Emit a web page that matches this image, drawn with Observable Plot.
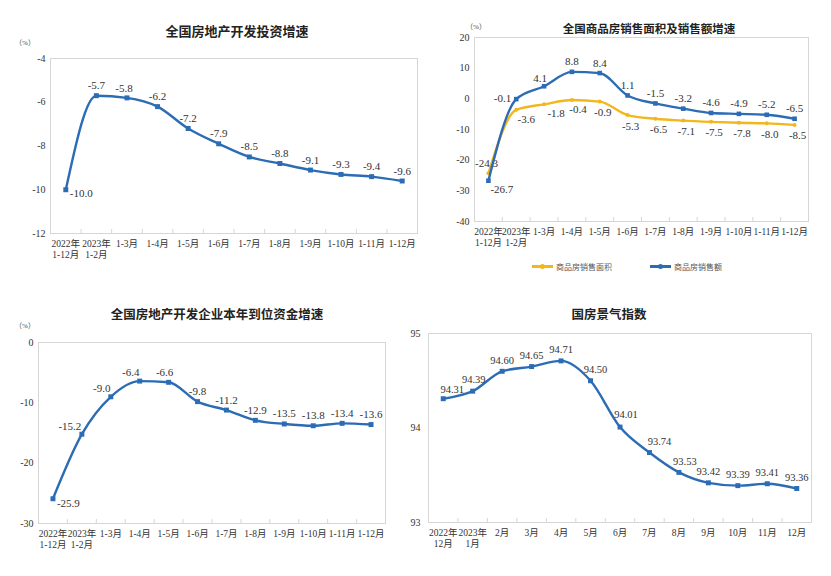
<!DOCTYPE html>
<html><head><meta charset="utf-8">
<script src="https://cdn.jsdelivr.net/npm/d3@7"></script>
<script src="https://cdn.jsdelivr.net/npm/@observablehq/plot@0.6"></script>
<style>
body{margin:0;background:#fff;}
#root{position:relative;width:831px;height:576px;overflow:hidden;background:#fff;}
.panel{position:absolute;}
.title{position:absolute;transform:translate(-50%,-50%);white-space:nowrap;font-family:"Noto Sans CJK SC","Noto Sans",sans-serif;font-weight:bold;color:#222;}
.unit{position:absolute;transform:translate(-50%,-50%);font-family:"Liberation Serif","Noto Sans CJK SC",serif;font-size:7px;color:#444;white-space:nowrap;}
.legend{position:absolute;font-family:"Noto Sans CJK SC",sans-serif;font-size:8px;color:#555;white-space:nowrap;display:flex;align-items:center;}
.sw{display:inline-block;position:relative;width:21px;height:2.5px;margin-right:3px;}
.sw i{position:absolute;left:8px;top:-1.5px;width:5px;height:5px;border-radius:50%;}
</style>
</head><body><div id="root"></div>
<script>
// ---------- data ----------
const catsCum = ["2022年\n1-12月","2023年\n1-2月","1-3月","1-4月","1-5月","1-6月","1-7月","1-8月","1-9月","1-10月","1-11月","1-12月"];
const investGrowth = [-10.0,-5.7,-5.8,-6.2,-7.2,-7.9,-8.5,-8.8,-9.1,-9.3,-9.4,-9.6];
const salesAreaGrowth = [-24.3,-3.6,-1.8,-0.4,-0.9,-5.3,-6.5,-7.1,-7.5,-7.8,-8.0,-8.5];
const salesAmountGrowth = [-26.7,-0.1,4.1,8.8,8.4,1.1,-1.5,-3.2,-4.6,-4.9,-5.2,-6.5];
const fundsGrowth = [-25.9,-15.2,-9.0,-6.4,-6.6,-9.8,-11.2,-12.9,-13.5,-13.8,-13.4,-13.6];
const catsMonth = ["2022年\n12月","2023年\n1月","2月","3月","4月","5月","6月","7月","8月","9月","10月","11月","12月"];
const climateIndex = [94.31,94.39,94.60,94.65,94.71,94.50,94.01,93.74,93.53,93.42,93.39,93.41,93.36];
const yTicksInvest = [-12,-10,-8,-6,-4];
const yTicksSales = [-40,-30,-20,-10,0,10,20];
const yTicksFunds = [-30,-20,-10,0];
const yTicksClimate = [93,94,95];
const seriesNames = ["商品房销售面积","商品房销售额"];
const titles = ["全国房地产开发投资增速","全国商品房销售面积及销售额增速","全国房地产开发企业本年到位资金增速","国房景气指数"];

const BLUE = "#2c6cb5", YELLOW = "#f2b71c";
const root = document.getElementById("root");
const FONT = "Times New Roman, Liberation Serif, Noto Sans CJK SC, serif";

function panel(cfg){
  const {left, top, width, height, mt, mr, mb, ml, cats, yTicks, series, digits, yPad} = cfg;
  const n = cats.length;
  const ph = height - mt - mb;
  const marks = [
    Plot.frame({stroke:"#d6d6d6"}),
    Plot.ruleX(d3.range(n+1).map(k=>k-0.5), {x:d=>d, stroke:"#d6d6d6", insetTop: ph-4}),
    Plot.axisX(d3.range(n), {label:null, tickSize:0, tickPadding:6, tickFormat:i=>cats[i], fontSize:9.5, lineHeight:1.15, fill:"#333"}),
    Plot.axisY(yTicks, {label:null, tickSize:0, tickPadding:yPad, tickFormat:d=>String(d), fontSize:10, fill:"#333"})
  ];
  for (const s of series){
    const data = s.values.map((v,i)=>({i, v}));
    marks.push(Plot.line(data, {x:"i", y:"v", stroke:s.color, strokeWidth:2.4, curve:"monotone-x"}));
    marks.push(Plot.dot(data, {x:"i", y:"v", fill:s.color, symbol:s.symbol, r:s.r}));
    data.forEach(d=>{
      const o = Object.assign({dx:0, dy:-10, anchor:"middle"}, s.def || {}, (s.lab||{})[d.i] || {});
      marks.push(Plot.text([d], {x:"i", y:"v", text:e=>e.v.toFixed(digits), dx:o.dx, dy:o.dy, textAnchor:o.anchor, fontSize:s.fs||11, fill:"#333"}));
    });
  }
  const chart = Plot.plot({
    width, height, marginTop:mt, marginRight:mr, marginBottom:mb, marginLeft:ml,
    x:{domain:[-0.5, n-0.5], axis:null},
    y:{domain:[yTicks[0], yTicks[yTicks.length-1]], axis:null},
    style:{fontFamily:FONT, fontSize:"10px", background:"transparent", overflow:"visible"},
    marks
  });
  const div = document.createElement("div");
  div.className = "panel";
  div.style.left = left+"px"; div.style.top = top+"px";
  div.appendChild(chart);
  root.appendChild(div);
}
function addTitle(text, x, y, size){
  const t = document.createElement("div");
  t.className = "title"; t.textContent = text;
  t.style.left = x+"px"; t.style.top = y+"px"; t.style.fontSize = size+"px";
  root.appendChild(t);
}
function addUnit(x, y){
  const u = document.createElement("div");
  u.className = "unit"; u.textContent = "（%）";
  u.style.left = x+"px"; u.style.top = y+"px";
  root.appendChild(u);
}

// Panel 1
panel({left:0, top:0, width:420, height:270, mt:58, mr:3, mb:37, ml:50, cats:catsCum, yTicks:yTicksInvest, digits:1, yPad:5,
  series:[{values:investGrowth, color:BLUE, symbol:"square", r:2.8,
    lab:{0:{dx:4, dy:4, anchor:"start"}, 2:{dx:-3, dy:-9}}}]});
addTitle(titles[0], 237, 30, 13);
addUnit(25, 42);

// Panel 2
panel({left:420, top:0, width:411, height:250, mt:37, mr:23, mb:29, ml:54, cats:catsCum, yTicks:yTicksSales, digits:1, yPad:5,
  series:[
    {values:salesAreaGrowth, color:YELLOW, symbol:"circle", r:2, def:{dx:3, dy:11},
      lab:{0:{dx:-2, dy:-10}, 1:{dx:10, dy:10}, 2:{dx:12, dy:9}, 3:{dx:6, dy:9}}},
    {values:salesAmountGrowth, color:BLUE, symbol:"square", r:2.6, def:{dx:0, dy:-10},
      lab:{0:{dx:2, dy:9, anchor:"start"}, 1:{dx:-5, dy:-1, anchor:"end"}, 2:{dx:-4, dy:-8}}}
  ]});
addTitle(titles[1], 649, 28, 11.5);
addUnit(476, 26);
const lg = document.createElement("div");
lg.className = "legend"; lg.style.left = "532px"; lg.style.top = "261px";
lg.innerHTML = `<span class="sw" style="background:${YELLOW}"><i style="background:${YELLOW}"></i></span><span>${seriesNames[0]}</span>`+
  `<span class="sw" style="background:${BLUE};margin-left:38px"><i style="background:${BLUE}"></i></span><span>${seriesNames[1]}</span>`;
root.appendChild(lg);

// Panel 3
panel({left:0, top:290, width:420, height:262, mt:52, mr:35, mb:29, ml:38, cats:catsCum, yTicks:yTicksFunds, digits:1, yPad:5,
  series:[{values:fundsGrowth, color:BLUE, symbol:"square", r:2.8,
    lab:{0:{dx:4, dy:5, anchor:"start"}, 1:{dx:-12, dy:-8}, 2:{dx:-9, dy:-8}, 3:{dx:-9, dy:-9}, 4:{dx:-4, dy:-10}}}]});
addTitle(titles[2], 217, 313, 12.5);
addUnit(25, 325);

// Panel 4
panel({left:395, top:290, width:436, height:270, mt:43, mr:20, mb:38, ml:33, cats:catsMonth, yTicks:yTicksClimate, digits:2, yPad:8,
  series:[{values:climateIndex, color:BLUE, symbol:"square", r:2.8, fs:10.5, def:{dx:0, dy:-11},
    lab:{0:{dx:9, dy:-9}, 1:{dx:1, dy:-12}, 5:{dx:5, dy:-11}, 6:{dx:6, dy:-12}, 7:{dx:10, dy:-11}, 8:{dx:6, dy:-11}}}]});
addTitle(titles[3], 609, 313, 12.5);
</script>
</body></html>
